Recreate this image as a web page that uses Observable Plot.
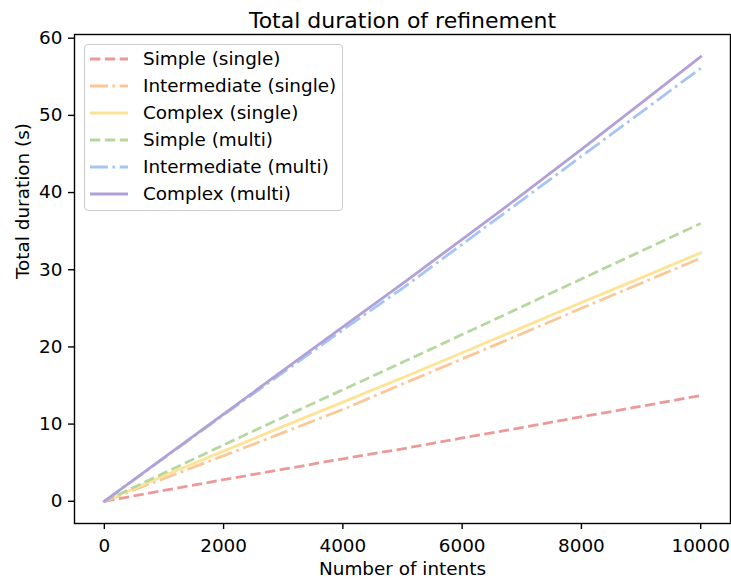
<!DOCTYPE html>
<html>
<head>
<meta charset="utf-8">
<script src="https://cdn.jsdelivr.net/npm/d3@7"></script>
<script src="https://cdn.jsdelivr.net/npm/@observablehq/plot@0.6"></script>
<style>
  html, body { margin: 0; padding: 0; background: white; }
  #wrap { position: relative; width: 731px; height: 580px; font-family: "DejaVu Sans", sans-serif; }
  #legend { position: absolute; left: 84px; top: 44px; width: 257px; height: 165px;
    border: 1px solid #cccccc; border-radius: 4px; background: rgba(255,255,255,0.8); }
  .row { position: absolute; left: 0; height: 24px; display: flex; align-items: center; }
  .row svg { position: absolute; left: 5px; top: 0; }
  .row span { position: absolute; left: 58px; white-space: nowrap; font-size: 18.4px; color: #000; line-height: 24px; top: 0; }
</style>
</head>
<body>
<div id="wrap"></div>
<script>
const intents = [0, 1000, 2000, 3000, 4000, 5000, 6000, 7000, 8000, 9000, 10000];
const simpleSingle       = [0, 1.4, 2.8, 4.15, 5.5, 6.8, 8.2, 9.55, 10.95, 12.3, 13.7];
const intermediateSingle = [0, 2.95, 5.9, 8.9, 11.9, 15.2, 18.45, 21.7, 25.0, 28.25, 31.5];
const complexSingle      = [0, 3.3, 6.5, 9.7, 12.85, 16.0, 19.25, 22.5, 25.75, 28.95, 32.2];
const simpleMulti        = [0, 3.65, 7.3, 10.9, 14.45, 18.0, 21.6, 25.2, 28.8, 32.4, 36.0];
const intermediateMulti  = [0, 5.6, 11.2, 16.7, 22.2, 27.6, 33.3, 39.0, 44.7, 50.4, 56.1];
const complexMulti       = [0, 5.65, 11.3, 16.95, 22.6, 28.2, 33.95, 39.7, 45.6, 51.6, 57.6];

const seriesNames = ["Simple (single)", "Intermediate (single)", "Complex (single)",
                     "Simple (multi)", "Intermediate (multi)", "Complex (multi)"];
const seriesValues = [simpleSingle, intermediateSingle, complexSingle, simpleMulti, intermediateMulti, complexMulti];
const seriesColors = ["#ec9a98", "#fbc797", "#fde396", "#b6d8a0", "#a6c5f6", "#b2a1d8"];
const seriesDash = ["dashed", "dashdot", "solid", "dashed", "dashdot", "solid"];
const xTicks = [0, 2000, 4000, 6000, 8000, 10000];
const yTicks = [0, 10, 20, 30, 40, 50, 60];

const LW = 2.8;
const dashMap = {
  solid: null,
  dashed: `${3.7*LW},${1.6*LW}`,
  dashdot: `${6.4*LW},${1.6*LW},${1*LW},${1.6*LW}`
};

const rows = [];
seriesNames.forEach((name, i) => {
  intents.forEach((x, j) => rows.push({series: name, x, y: seriesValues[i][j]}));
});

const lineMarks = seriesNames.map((name, i) => Plot.line(rows.filter(d => d.series === name), {
  x: "x", y: "y",
  stroke: seriesColors[i],
  strokeWidth: LW,
  strokeDasharray: dashMap[seriesDash[i]],
  strokeLinecap: seriesDash[i] === "solid" ? "square" : "butt",
  strokeLinejoin: "round"
}));

const chart = Plot.plot({
  width: 731,
  height: 580,
  marginLeft: 74,
  marginRight: 1,
  marginTop: 34,
  marginBottom: 57,
  style: {fontFamily: "DejaVu Sans", fontSize: "18.4px", color: "black", background: "white", overflow: "visible"},
  x: {domain: [-500, 10500]},
  y: {domain: [-2.88, 60.48]},
  marks: [
    ...lineMarks,
    Plot.frame({stroke: "black", strokeWidth: 1.4}),
    Plot.axisX({ticks: xTicks, tickSize: 6, tickPadding: 9, tickFormat: d3.format("d"), label: null, strokeWidth: 1.4}),
    Plot.axisY({ticks: yTicks, tickSize: 6, tickPadding: 6, tickFormat: d3.format("d"), label: null, strokeWidth: 1.4}),
    Plot.text(["Total duration of refinement"], {frameAnchor: "top", lineAnchor: "middle", dy: -14, text: d => d, fontSize: 22, fill: "black"}),
    Plot.text(["Number of intents"], {frameAnchor: "bottom", lineAnchor: "middle", dy: 46, text: d => d, fill: "black"}),
    Plot.text(["Total duration (s)"], {frameAnchor: "left", lineAnchor: "middle", dx: -51, rotate: -90, text: d => d, fill: "black"})
  ]
});

const wrap = document.getElementById("wrap");
wrap.appendChild(chart);

const legend = document.createElement("div");
legend.id = "legend";
const rowCenters = [14.3, 41.3, 68.3, 95.3, 122.3, 149.3];
seriesNames.forEach((name, i) => {
  const r = document.createElement("div");
  r.className = "row";
  r.style.top = (rowCenters[i] - 12) + "px";
  const s = d3.create("svg").attr("width", 40).attr("height", 24);
  s.append("line").attr("x1", 0).attr("x2", 38).attr("y1", 12).attr("y2", 12)
    .attr("stroke", seriesColors[i]).attr("stroke-width", LW)
    .attr("stroke-dasharray", dashMap[seriesDash[i]])
    .attr("stroke-linecap", "butt");
  r.appendChild(s.node());
  const t = document.createElement("span");
  t.textContent = name;
  r.appendChild(t);
  legend.appendChild(r);
});
wrap.appendChild(legend);
</script>
</body>
</html>
